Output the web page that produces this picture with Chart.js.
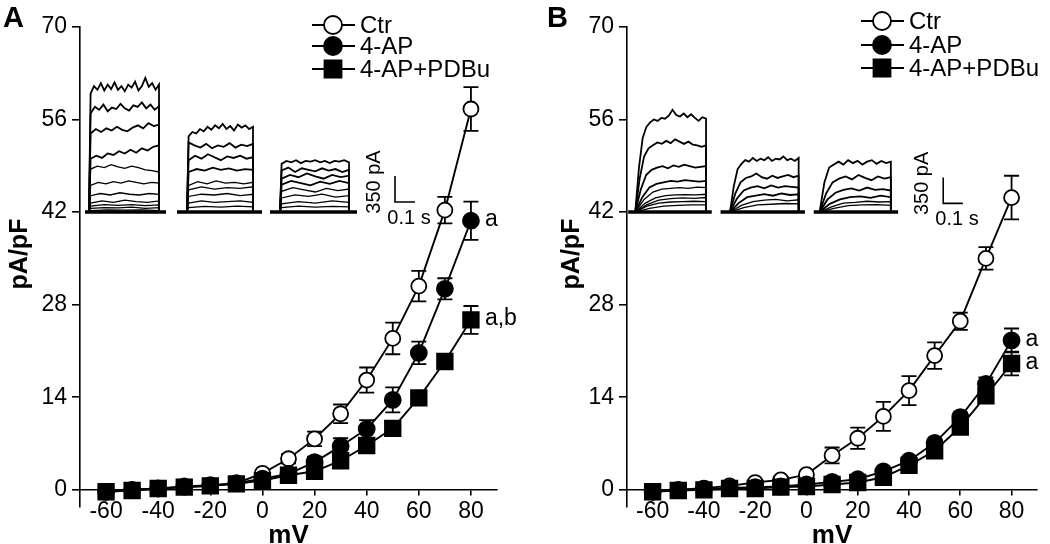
<!DOCTYPE html>
<html><head><meta charset="utf-8">
<script src="https://cdn.jsdelivr.net/npm/chart.js@4.4.1/dist/chart.umd.min.js"></script>
<style>
html,body{margin:0;padding:0;background:#fff;}
#wrap{position:relative;width:1050px;height:544px;overflow:hidden;}
.panel{position:absolute;top:0;width:525px;height:544px;}
</style></head><body>
<div id="wrap">
<div class="panel" style="left:0"><canvas id="cA" width="525" height="544"></canvas></div>
<div class="panel" style="left:525px"><canvas id="cB" width="525" height="544"></canvas></div>
</div>
<script>
// ---------- data ----------
const voltages = [-60,-50,-40,-30,-20,-10,0,10,20,30,40,50,60,70,80];
const xTickValues = [-60,-40,-20,0,20,40,60,80];
const yTickValues = [0,14,28,42,56,70];
const seriesNames = ['Ctr','4-AP','4-AP+PDBu'];
const xTitle = 'mV';
const yTitle = 'pA/pF';

const A_ctr      = [-0.3,0.0,0.2,0.4,0.6,1.0,2.5,4.7,7.7,11.5,16.6,22.9,30.8,42.3,57.6];
const A_ctr_err  = [0.3,0.3,0.3,0.3,0.3,0.4,0.5,0.7,1.1,1.4,1.9,2.4,2.3,2.0,3.3];
const A_4ap      = [-0.3,0.0,0.2,0.5,0.7,1.0,1.7,2.4,4.2,6.6,9.2,13.6,20.7,30.4,40.7];
const A_4ap_err  = [0.3,0.3,0.3,0.3,0.3,0.3,0.4,0.5,0.8,1.2,1.35,1.9,1.7,1.6,2.9];
const A_pdbu     = [-0.3,-0.1,0.2,0.4,0.6,0.9,1.4,2.2,2.8,4.4,6.7,9.3,13.9,19.4,25.7];
const A_pdbu_err = [0.2,0.2,0.2,0.2,0.2,0.3,0.3,0.4,0.5,0.6,0.7,0.7,0.6,0.6,2.1];

const B_ctr      = [-0.3,0.0,0.25,0.6,1.1,1.5,2.3,5.2,7.8,11.1,15.0,20.3,25.5,35.0,44.2];
const B_ctr_err  = [0.3,0.3,0.3,0.3,0.4,0.5,0.5,1.2,1.6,2.2,2.2,2.0,1.3,1.7,3.3];
const B_4ap      = [-0.3,0.0,0.1,0.3,0.4,0.5,0.8,1.2,1.6,2.8,4.4,7.1,11.0,16.0,22.6];
const B_4ap_err  = [0.2,0.2,0.2,0.2,0.2,0.2,0.3,0.3,0.3,0.4,0.5,0.6,0.7,1.0,1.8];
const B_pdbu     = [-0.3,-0.1,0.0,0.2,0.2,0.4,0.5,0.8,1.1,1.9,3.7,5.9,9.5,14.2,19.1];
const B_pdbu_err = [0.2,0.2,0.2,0.2,0.2,0.2,0.2,0.3,0.3,0.4,0.5,0.6,0.7,0.9,1.8];

const A_sigLabels = ['', 'a', 'a,b'];
const B_sigLabels = ['', 'a', 'a'];

// inset current traces (pA), times in ms on the inset time base
const A_insetWindows = [ {base:[25,430],  pulse:[45,395]},
                         {base:[485,910], pulse:[535,865]},
                         {base:[950,1385],pulse:[1000,1345]} ];
const A_insetTraces = [
 [ [1600,1700,1650,1740,1640,1720,1660,1750,1650,1700,1630,1720,1680,1760,1640,1700,1810,1690,1740,1650,1720],
   [1330,1420,1380,1450,1360,1410,1390,1460,1400,1370,1440,1420,1480,1400,1450,1380,1430],
   [1060,1120,1080,1130,1100,1150,1110,1090,1140,1170,1130,1200,1160,1180],
   [720,760,730,790,770,820,790,840,800,860,830,880,900],
   [580,620,600,640,610,590,620,600,570,560,540],
   [360,400,380,410,390,420,400,380,400,390],
   [220,250,230,260,240,230,250,240],
   [120,150,130,160,140,130,150],
   [80,100,90,100,85,95],
   [50,60,55,65,50,60],
   [20,30,25,30,20] ],
 [ [1020,1080,1060,1120,1090,1150,1110,1170,1130,1190,1120,1160,1100,1180,1140,1170,1120,1150],
   [940,900,870,920,860,900,880,930,870,910,890,920],
   [700,760,720,780,740,700,750,730,760,720,740],
   [540,580,560,600,570,590,560,580,570],
   [360,410,380,420,390,400,380,400],
   [300,340,310,330,320,340],
   [210,240,230,250,220,240],
   [120,150,130,140,150,130],
   [60,75,65,80,70] ],
 [ [650,690,670,700,660,690,680,700,670,690,660,690,680,700,670],
   [560,600,540,590,570,550,590,560,580,540,570],
   [450,500,470,520,480,450,500,470,490],
   [370,420,390,360,410,380,420,390],
   [280,330,300,270,320,290,310],
   [190,230,210,240,200,220],
   [110,140,120,150,130],
   [60,80,65,75,70] ]
];
const B_insetWindows = [ {base:[6,432],   pulse:[42,403]},
                         {base:[477,907], pulse:[525,875]},
                         {base:[952,1382],pulse:[982,1345]} ];
const B_insetTraces = [
 [ [600,1000,1150,1210,1250,1230,1270,1260,1300,1380,1310,1290,1330,1280,1320,1270,1230,1280,1260],
   [450,750,860,900,940,920,960,930,980,950,920,950,910,900,880,900],
   [300,500,570,600,620,590,630,610,640,620,600,610,620],
   [200,330,380,400,420,410,430,420,410,420],
   [170,270,310,320,330,320,335,330],
   [120,190,220,230,235,230,240],
   [100,160,180,190,185,195],
   [80,120,135,140,145,140],
   [50,80,90,95,95] ],
 [ [350,580,650,700,680,730,690,720,700,740,690,720,710,750,700,720,690,730],
   [250,400,460,480,520,470,450,490,460,480,500,470,490],
   [180,290,330,350,320,360,330,350,340,330],
   [120,200,220,240,220,250,230,240],
   [90,140,160,170,150,165],
   [60,95,105,115,110] ],
 [ [400,600,640,680,640,700,660,690,640,680,700,650,690,660,680],
   [250,400,450,480,440,500,460,430,480,450,470],
   [170,260,300,320,290,330,300,310,290],
   [110,170,200,210,190,220,200],
   [70,120,130,145,135,140],
   [50,85,95,100,90] ]
];
const scaleBarLabels = {current:'350 pA', time:'0.1 s', currentSize:350, timeSize:100};

// ---------- styling ----------
const FONT = '"Liberation Sans", Arial, Helvetica, sans-serif';
const INK = '#000';

function tracePoints(win, vals, fast) {
  const p0 = win.pulse[0], p1 = win.pulse[1];
  const n = vals.length;
  const s0 = fast ? p0 + 8 : p0 + (p1 - p0) / n;
  const pts = [{x:p0, y:0}];
  vals.forEach((v,i) => pts.push({x: s0 + (p1 - s0) * i / (n - 1), y: v}));
  pts.push({x:p1, y:0});
  return pts;
}

const decorPlugin = {
  id: 'decor',
  beforeDatasetsDraw(chart) {
    const P = chart.options.plugins.decor;
    const xs = chart.scales.x, ys = chart.scales.y, ctx = chart.ctx;
    ctx.save();
    ctx.strokeStyle = INK; ctx.lineWidth = 1.8;
    P.series.forEach(s => {
      s.values.forEach((v,i) => {
        const px = xs.getPixelForValue(voltages[i]);
        const t = ys.getPixelForValue(v + s.err[i]);
        const b = ys.getPixelForValue(v - s.err[i]);
        ctx.beginPath();
        ctx.moveTo(px, t); ctx.lineTo(px, b);
        ctx.moveTo(px - 7.5, t); ctx.lineTo(px + 7.5, t);
        ctx.moveTo(px - 7.5, b); ctx.lineTo(px + 7.5, b);
        ctx.stroke();
      });
    });
    ctx.restore();
  },
  afterDraw(chart) {
    const P = chart.options.plugins.decor;
    const ctx = chart.ctx;
    const xs = chart.scales.x, ys = chart.scales.y, xi = chart.scales.xi, yi = chart.scales.yi;
    ctx.save();
    ctx.fillStyle = INK; ctx.strokeStyle = INK;
    // panel letter
    ctx.font = 'bold 29px ' + FONT;
    ctx.textAlign = 'left'; ctx.textBaseline = 'alphabetic';
    ctx.fillText(P.letter, P.letterX, 27);
    // y title
    ctx.save();
    ctx.translate(P.yTitleX, 254);
    ctx.rotate(-Math.PI/2);
    ctx.font = 'bold 25px ' + FONT;
    ctx.textAlign = 'center'; ctx.textBaseline = 'middle';
    ctx.fillText(yTitle, 0, 0);
    ctx.restore();
    // legend
    P.series.forEach((s, k) => {
      const cy = P.legendRows[k], cx = P.legendX;
      ctx.lineWidth = 1.8;
      ctx.beginPath(); ctx.moveTo(cx - 21, cy); ctx.lineTo(cx + 22, cy); ctx.stroke();
      ctx.fillStyle = s.fill;
      Chart.helpers.drawPoint(ctx, {pointStyle: s.style, radius: s.style === 'rect' ? 12 : 9, rotation: 0, borderWidth: 1.8}, cx, cy);
      ctx.fillStyle = INK;
      ctx.font = '24px ' + FONT;
      ctx.textAlign = 'left'; ctx.textBaseline = 'middle';
      ctx.fillText(s.label, cx + 27, cy + 1);
    });
    // significance labels
    ctx.font = '23px ' + FONT;
    ctx.textAlign = 'left'; ctx.textBaseline = 'middle';
    P.series.forEach((s) => {
      if (!s.sig) return;
      const last = s.values.length - 1;
      ctx.fillText(s.sig, xs.getPixelForValue(voltages[last]) + 14, ys.getPixelForValue(s.values[last]) - 1);
    });
    // scale bar labels
    const bx = xi.getPixelForValue(P.bar.t), by = yi.getPixelForValue(P.bar.y);
    const bTop = yi.getPixelForValue(P.bar.y + scaleBarLabels.currentSize);
    const bRight = xi.getPixelForValue(P.bar.t + scaleBarLabels.timeSize);
    ctx.font = '20px ' + FONT;
    ctx.textAlign = 'center'; ctx.textBaseline = 'middle';
    ctx.fillText(scaleBarLabels.time, (bx + bRight) / 2 + 4, by + 16);
    ctx.save();
    ctx.translate(bx - 21, (by + bTop) / 2 - 7);
    ctx.rotate(-Math.PI/2);
    ctx.fillText(scaleBarLabels.current, 0, 0);
    ctx.restore();
    ctx.restore();
  }
};

function makePanel(id, P) {
  const datasets = [];
  P.windows.forEach((w, j) => {
    datasets.push({data:[{x:w.base[0],y:0},{x:w.base[1],y:0}], xAxisID:'xi', yAxisID:'yi',
      borderColor:INK, borderWidth:3.5, pointRadius:0, order:10});
    P.traces[j].forEach((vals, k) => {
      datasets.push({data: tracePoints(w, vals, P.fast), xAxisID:'xi', yAxisID:'yi',
        borderColor:INK, borderWidth: k < 4 ? 1.8 : 1.3, pointRadius:0, order:10});
    });
  });
  datasets.push({data:[{x:P.bar.t, y:P.bar.y + scaleBarLabels.currentSize},{x:P.bar.t, y:P.bar.y},{x:P.bar.t + scaleBarLabels.timeSize, y:P.bar.y}],
    xAxisID:'xi', yAxisID:'yi', borderColor:INK, borderWidth:1.6, pointRadius:0, order:10});
  P.series.forEach((s, k) => {
    datasets.push({label:s.label, data: voltages.map((v,i) => ({x:v, y:s.values[i]})),
      xAxisID:'x', yAxisID:'y', borderColor:INK, borderWidth:1.9, backgroundColor:s.fill,
      pointStyle:s.style, pointRadius:s.radius, pointBorderWidth:1.8, pointBorderColor:INK,
      pointBackgroundColor:s.fill, order: 3 - k, clip:false});
  });
  const tickFont = {family: FONT, size: 23};
  new Chart(document.getElementById(id), {
    type:'line',
    data:{datasets},
    options:{
      responsive:false, animation:false, devicePixelRatio:1,
      layout:{padding:{left:0, right:P.padRight, top:27, bottom:37}},
      plugins:{legend:{display:false}, tooltip:{enabled:false}, decor:P},
      scales:{
        x:{type:'linear', position:{y:0}, min:-70, max:90,
           afterBuildTicks: s => { s.ticks = xTickValues.map(v => ({value:v})); },
           ticks:{font:tickFont, color:INK, padding:3, maxRotation:0, autoSkip:false},
           grid:{display:true, drawOnChartArea:false, drawTicks:true, tickLength:5, color:INK, lineWidth:1.6},
           border:{display:true, color:INK, width:1.6},
           title:{display:true, text:xTitle, color:INK, font:{family:FONT, size:26, weight:'bold'}, padding:{top:-8, bottom:0}}},
        y:{type:'linear', position:'left', min:-2.6, max:70,
           afterBuildTicks: s => { s.ticks = yTickValues.map(v => ({value:v})); },
           afterFit: s => { s.width = P.yWidth; },
           ticks:{font:tickFont, color:INK, padding:5},
           grid:{display:true, drawOnChartArea:false, drawTicks:true, tickLength:8, color:INK, lineWidth:1.6},
           border:{display:true, color:INK, width:1.6}},
        xi:{type:'linear', display:false, min:0, max:P.xiMax},
        yi:{type:'linear', display:false, min:-3983, max:2498}
      }
    },
    plugins:[decorPlugin]
  });
}

makePanel('cA', {
  letter:'A', letterX:3, yTitleX:20, yWidth:80, padRight:28, xiMax:2085, fast:true,
  legendX:333, legendRows:[25,46,69],
  windows:A_insetWindows, traces:A_insetTraces, bar:{t:1575, y:135},
  series:[
    {label:seriesNames[0], values:A_ctr,  err:A_ctr_err,  style:'circle', radius:7.5, fill:'#fff', sig:A_sigLabels[0]},
    {label:seriesNames[1], values:A_4ap,  err:A_4ap_err,  style:'circle', radius:8,   fill:INK,    sig:A_sigLabels[1]},
    {label:seriesNames[2], values:A_pdbu, err:A_pdbu_err, style:'rect',   radius:11,  fill:INK,    sig:A_sigLabels[2]}
  ]
});
makePanel('cB', {
  letter:'B', letterX:22, yTitleX:47, yWidth:102, padRight:5, xiMax:2091, fast:false,
  legendX:357, legendRows:[21,45,68],
  windows:B_insetWindows, traces:B_insetTraces, bar:{t:1612, y:117},
  series:[
    {label:seriesNames[0], values:B_ctr,  err:B_ctr_err,  style:'circle', radius:7.5, fill:'#fff', sig:B_sigLabels[0]},
    {label:seriesNames[1], values:B_4ap,  err:B_4ap_err,  style:'circle', radius:8,   fill:INK,    sig:B_sigLabels[1]},
    {label:seriesNames[2], values:B_pdbu, err:B_pdbu_err, style:'rect',   radius:11,  fill:INK,    sig:B_sigLabels[2]}
  ]
});
</script>
</body></html>
